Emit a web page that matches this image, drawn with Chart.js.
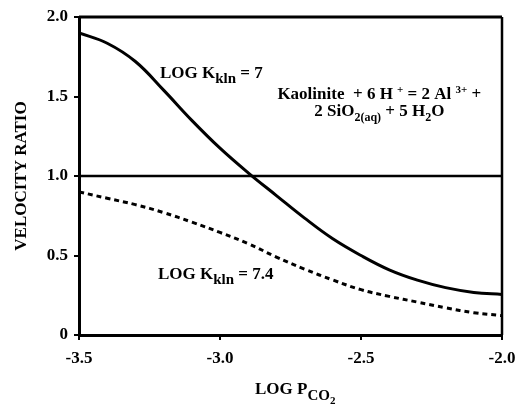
<!DOCTYPE html>
<html>
<head>
<meta charset="utf-8">
<script src="https://cdn.jsdelivr.net/npm/chart.js@4/dist/chart.umd.min.js"></script>
<style>
  html, body { margin: 0; padding: 0; background: #fff; }
  #wrap { width: 516px; height: 409px; }
</style>
</head>
<body>
<div id="wrap"><canvas id="velocityChart"></canvas></div>
<script>
// values
var logPco2 = [-3.5, -3.4, -3.3, -3.2, -3.1, -3.0, -2.9, -2.8, -2.7, -2.6, -2.5, -2.4, -2.3, -2.2, -2.1, -2.0];
var ratioK7 = [1.90, 1.835, 1.72, 1.54, 1.35, 1.175, 1.02, 0.877, 0.735, 0.605, 0.50, 0.41, 0.345, 0.298, 0.268, 0.255];
var ratioK74 = [0.90, 0.86, 0.82, 0.77, 0.71, 0.645, 0.575, 0.49, 0.414, 0.346, 0.285, 0.243, 0.207, 0.171, 0.14, 0.122];
var unityX = [-3.5, -2.0];
var unityY = [1.0, 1.0];
var xTicks = [-3.5, -3.0, -2.5, -2.0];
var yTicks = [0, 0.5, 1.0, 1.5, 2.0];

var FONT = '"Liberation Serif", "Times New Roman", serif';

function toPoints(xs, ys) {
  return xs.map(function (x, i) { return { x: x, y: ys[i] }; });
}

// draws a run of text pieces: [text, size, yShift]
function drawRich(ctx, x, y, parts, align) {
  var total = 0;
  parts.forEach(function (p) {
    ctx.font = 'bold ' + p[1] + 'px ' + FONT;
    total += ctx.measureText(p[0]).width;
  });
  var cx = align === 'center' ? x - total / 2 : x;
  parts.forEach(function (p) {
    ctx.font = 'bold ' + p[1] + 'px ' + FONT;
    ctx.fillText(p[0], cx, y + p[2]);
    cx += ctx.measureText(p[0]).width;
  });
}

var frameAndText = {
  id: 'frameAndText',
  afterDatasetsDraw: function (chart) {
    var ctx = chart.ctx;
    var a = chart.chartArea;
    var sx = chart.scales.x, sy = chart.scales.y;
    ctx.save();
    // top and right frame lines
    ctx.strokeStyle = '#000';
    ctx.lineWidth = 3;
    ctx.beginPath();
    ctx.moveTo(a.left, a.top);
    ctx.lineTo(a.right, a.top);
    ctx.stroke();
    ctx.lineWidth = 2.5;
    ctx.beginPath();
    ctx.moveTo(a.right, a.top);
    ctx.lineTo(a.right, a.bottom);
    ctx.stroke();

    ctx.fillStyle = '#000';
    ctx.textBaseline = 'alphabetic';
    ctx.textAlign = 'left';

    drawRich(ctx, sx.getPixelForValue(-3.213), sy.getPixelForValue(1.616), [
      ['LOG K', 17, 0], ['kln', 15, 5], [' = 7', 17, 0]
    ]);
    drawRich(ctx, sx.getPixelForValue(-2.435), sy.getPixelForValue(1.484), [
      ['Kaolinite  + 6 H ', 17, 0], ['+', 11, -6], [' = 2 Al ', 17, 0], ['3+', 11, -6], [' +', 17, 0]
    ], 'center');
    drawRich(ctx, sx.getPixelForValue(-2.435), sy.getPixelForValue(1.38), [
      ['2 SiO', 17, 0], ['2(aq)', 12, 5], [' + 5 H', 17, 0], ['2', 12, 5], ['O', 17, 0]
    ], 'center');
    drawRich(ctx, sx.getPixelForValue(-3.22), sy.getPixelForValue(0.352), [
      ['LOG K', 17, 0], ['kln', 15, 5], [' = 7.4', 17, 0]
    ]);

    // x axis title
    drawRich(ctx, 255, 394, [
      ['LOG P', 17, 0], ['CO', 15, 6], ['2', 11, 10]
    ]);

    // y axis title
    ctx.translate(26, (a.top + a.bottom) / 2);
    ctx.rotate(-Math.PI / 2);
    ctx.textAlign = 'center';
    ctx.font = 'bold 17px ' + FONT;
    ctx.fillText('VELOCITY RATIO', 0, 0);
    ctx.restore();
  }
};

var ctx = document.getElementById('velocityChart').getContext('2d');
var velocityChart = new Chart(ctx, {
  type: 'line',
  data: {
    datasets: [
      {
        label: 'LOG Kkln = 7',
        data: toPoints(logPco2, ratioK7),
        borderColor: '#000',
        borderWidth: 3,
        pointRadius: 0,
        tension: 0.4
      },
      {
        label: 'LOG Kkln = 7.4',
        data: toPoints(logPco2, ratioK74),
        borderColor: '#000',
        borderWidth: 3,
        borderDash: [5, 4],
        pointRadius: 0,
        tension: 0.4
      },
      {
        label: 'ratio 1',
        data: toPoints(unityX, unityY),
        borderColor: '#000',
        borderWidth: 2.5,
        pointRadius: 0
      }
    ]
  },
  options: {
    responsive: true,
    maintainAspectRatio: false,
    animation: false,
    layout: { padding: { left: 0, right: 14, top: 17, bottom: 0 } },
    plugins: {
      legend: { display: false },
      tooltip: { enabled: false }
    },
    scales: {
      x: {
        type: 'linear',
        min: -3.5,
        max: -2.0,
        afterFit: function (scale) {
          scale.height = 74;
          scale.paddingLeft = 0;
          scale.paddingRight = 0;
        },
        afterBuildTicks: function (scale) {
          scale.ticks = xTicks.map(function (v) { return { value: v }; });
        },
        ticks: {
          color: '#000',
          padding: 8,
          maxRotation: 0,
          font: { family: FONT, size: 17, weight: 'bold' },
          callback: function (v) { return v.toFixed(1); }
        },
        grid: { drawOnChartArea: false, drawTicks: true, tickLength: 5, color: '#000', lineWidth: 2 },
        border: { display: true, color: '#000', width: 3 }
      },
      y: {
        min: 0,
        max: 2.0,
        afterFit: function (scale) {
          scale.width = 79;
          scale.paddingTop = 0;
          scale.paddingBottom = 0;
        },
        afterBuildTicks: function (scale) {
          scale.ticks = yTicks.map(function (v) { return { value: v }; });
        },
        ticks: {
          color: '#000',
          padding: 6,
          font: { family: FONT, size: 17, weight: 'bold' },
          callback: function (v) { return v === 0 ? '0' : v.toFixed(1); }
        },
        grid: { drawOnChartArea: false, drawTicks: true, tickLength: 5, color: '#000', lineWidth: 2 },
        border: { display: true, color: '#000', width: 3 }
      }
    }
  },
  plugins: [frameAndText]
});
</script>
</body>
</html>
